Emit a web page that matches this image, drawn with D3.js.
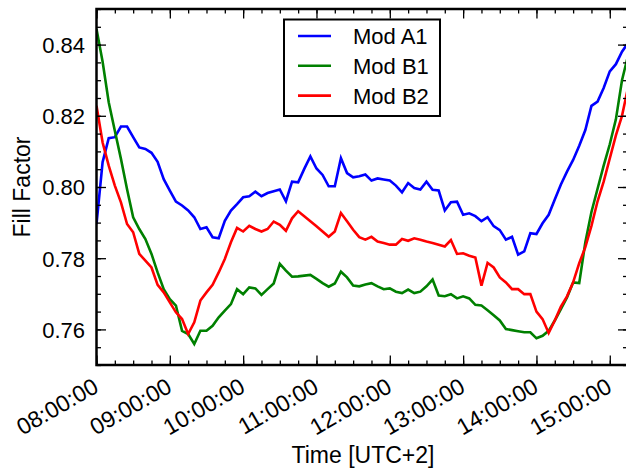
<!DOCTYPE html>
<html>
<head>
<meta charset="utf-8">
<script src="https://cdn.jsdelivr.net/npm/d3@7"></script>
<style>
  body { margin: 0; background: #fff; }
  svg text { font-family: "Liberation Sans", Arial, Helvetica, sans-serif; fill: #000; }
</style>
</head>
<body>
<div id="chart"></div>
<script>
// samples every 5 minutes starting 08:00:00
var startTime = new Date(2015, 5, 1, 8, 0, 0);
var stepMinutes = 5;

var seriesNames = ["Mod A1", "Mod B1", "Mod B2"];
var seriesColors = ["#0000ff", "#008000", "#ff0000"];

var modA1 = [0.7896, 0.8070, 0.8137, 0.8140, 0.8170, 0.8170, 0.8140, 0.8111, 0.8107, 0.8096,
  0.8071, 0.8022, 0.7990, 0.7959, 0.7948, 0.7934, 0.7915, 0.7882, 0.7887, 0.7859,
  0.7856, 0.7905, 0.7934, 0.7952, 0.7971, 0.7974, 0.7987, 0.7974, 0.7983, 0.7988,
  0.7993, 0.7960, 0.8015, 0.8013, 0.8051, 0.8086, 0.8052, 0.8034, 0.8002, 0.8002,
  0.8081, 0.8039, 0.8027, 0.8030, 0.8035, 0.8018, 0.8024, 0.8021, 0.8018, 0.8004,
  0.7985, 0.8011, 0.7997, 0.7993, 0.8015, 0.7992, 0.7990, 0.7934, 0.7957, 0.7959,
  0.7922, 0.7926, 0.7918, 0.7904, 0.7915, 0.7890, 0.7879, 0.7852, 0.7860, 0.7810,
  0.7819, 0.7870, 0.7868, 0.7898, 0.7922, 0.7965, 0.8007, 0.8043, 0.8076, 0.8116,
  0.8160, 0.8228, 0.8240, 0.8278, 0.8325, 0.8345, 0.8380, 0.8405];

var modB1 = [0.8444, 0.8352, 0.8238, 0.8158, 0.8079, 0.7994, 0.7915, 0.7882, 0.7854, 0.7812,
  0.7760, 0.7713, 0.7685, 0.7667, 0.7596, 0.7587, 0.7559, 0.7596, 0.7596, 0.7610,
  0.7634, 0.7653, 0.7671, 0.7713, 0.7699, 0.7718, 0.7715, 0.7697, 0.7713, 0.7729,
  0.7784, 0.7765, 0.7748, 0.7749, 0.7751, 0.7753, 0.7742, 0.7730, 0.7720, 0.7729,
  0.7762, 0.7746, 0.7723, 0.7721, 0.7726, 0.7730, 0.7721, 0.7713, 0.7715, 0.7706,
  0.7702, 0.7712, 0.7702, 0.7706, 0.7721, 0.7740, 0.7695, 0.7693, 0.7699, 0.7687,
  0.7693, 0.7687, 0.7669, 0.7667, 0.7654, 0.7640, 0.7625, 0.7601, 0.7598, 0.7595,
  0.7592, 0.7592, 0.7575, 0.7582, 0.7596, 0.7625, 0.7657, 0.7690, 0.7732, 0.7730,
  0.7845, 0.7930, 0.7995, 0.8060, 0.8120, 0.8190, 0.8300, 0.8370];

var modB2 = [0.8228, 0.8125, 0.8060, 0.8004, 0.7957, 0.7896, 0.7873, 0.7812, 0.7793, 0.7774,
  0.7725, 0.7704, 0.7676, 0.7648, 0.7629, 0.7587, 0.7620, 0.7681, 0.7704, 0.7725,
  0.7760, 0.7798, 0.7845, 0.7885, 0.7875, 0.7891, 0.7882, 0.7875, 0.7882, 0.7903,
  0.7894, 0.7877, 0.7912, 0.7932, 0.7918, 0.7904, 0.7890, 0.7875, 0.7860, 0.7875,
  0.7927, 0.7904, 0.7880, 0.7859, 0.7852, 0.7860, 0.7847, 0.7843, 0.7838, 0.7838,
  0.7854, 0.7849, 0.7856, 0.7852, 0.7847, 0.7843, 0.7838, 0.7833, 0.7851, 0.7812,
  0.7814, 0.7807, 0.7802, 0.7723, 0.7787, 0.7774, 0.7746, 0.7732, 0.7713, 0.7713,
  0.7699, 0.7699, 0.7650, 0.7629, 0.7590, 0.7625, 0.7664, 0.7693, 0.7732, 0.7786,
  0.7831, 0.7891, 0.7960, 0.8015, 0.8080, 0.8145, 0.8200, 0.8280];

var xTickLabels = ["08:00:00", "09:00:00", "10:00:00", "11:00:00",
  "12:00:00", "13:00:00", "14:00:00", "15:00:00"];
var yTickValues = [0.76, 0.78, 0.80, 0.82, 0.84];
var yTickLabels = ["0.76", "0.78", "0.80", "0.82", "0.84"];

var W = 626, H = 474;
var plot = { left: 96.5, right: 627.5, top: 9, bottom: 365 };

var svg = d3.select("#chart").append("svg")
    .attr("width", W)
    .attr("height", H);

var x = d3.scaleTime()
    .domain([startTime, new Date(+startTime + 434.5 * 60000)])
    .range([plot.left, plot.right]);

var y = d3.scaleLinear()
    .domain([0.75, 0.85])
    .range([plot.bottom, plot.top]);

function timeAt(i) { return new Date(+startTime + i * stepMinutes * 60000); }

svg.append("clipPath").attr("id", "clip")
  .append("rect")
    .attr("x", plot.left).attr("y", plot.top)
    .attr("width", plot.right - plot.left)
    .attr("height", plot.bottom - plot.top);

var line = d3.line()
    .x(function(d, i) { return x(timeAt(i)); })
    .y(function(d) { return y(d); });

var allSeries = [modA1, modB1, modB2];

svg.append("g").attr("clip-path", "url(#clip)")
  .selectAll("path")
  .data(allSeries)
  .enter().append("path")
    .attr("d", line)
    .attr("fill", "none")
    .attr("stroke", function(d, i) { return seriesColors[i]; })
    .attr("stroke-width", 2.6)
    .attr("stroke-linejoin", "miter");

// axes: ticks point inward on all four sides
function styleAxis(g) {
  g.select(".domain").remove();
  g.selectAll(".tick line").attr("stroke", "#000").attr("stroke-width", 1.3);
}

var hourTicks = d3.timeHour.every(1);
var quarterTicks = d3.timeMinute.every(15);
var minorY = d3.range(0.75, 0.8501, 0.005);

svg.append("g").attr("transform", "translate(0," + plot.bottom + ")")
  .call(d3.axisBottom(x).ticks(quarterTicks).tickSize(-4.5).tickFormat(""))
  .call(styleAxis);
svg.append("g").attr("transform", "translate(0," + plot.top + ")")
  .call(d3.axisTop(x).ticks(quarterTicks).tickSize(-4.5).tickFormat(""))
  .call(styleAxis);
svg.append("g").attr("transform", "translate(" + plot.left + ",0)")
  .call(d3.axisLeft(y).tickValues(minorY).tickSize(-4.5).tickFormat(""))
  .call(styleAxis);
svg.append("g").attr("transform", "translate(" + plot.right + ",0)")
  .call(d3.axisRight(y).tickValues(minorY).tickSize(-4.5).tickFormat(""))
  .call(styleAxis);

var xAxis = svg.append("g").attr("transform", "translate(0," + plot.bottom + ")")
  .call(d3.axisBottom(x).ticks(hourTicks).tickSize(-9.5)
    .tickFormat(function(d, i) { return xTickLabels[i]; }))
  .call(styleAxis);
xAxis.selectAll(".tick text")
    .attr("font-size", 23)
    .attr("text-anchor", "end")
    .attr("x", 0).attr("y", 0).attr("dy", 0)
    .attr("transform", "translate(3,26) rotate(-30)");

svg.append("g").attr("transform", "translate(0," + plot.top + ")")
  .call(d3.axisTop(x).ticks(hourTicks).tickSize(-9.5).tickFormat(""))
  .call(styleAxis);

var yAxis = svg.append("g").attr("transform", "translate(" + plot.left + ",0)")
  .call(d3.axisLeft(y).tickValues(yTickValues).tickSize(-9.5)
    .tickFormat(function(d, i) { return yTickLabels[i]; }))
  .call(styleAxis);
yAxis.selectAll(".tick text")
    .attr("font-size", 22)
    .attr("x", -11.5)
    .attr("dy", "0.36em");

svg.append("g").attr("transform", "translate(" + plot.right + ",0)")
  .call(d3.axisRight(y).tickValues(yTickValues).tickSize(-9.5).tickFormat(""))
  .call(styleAxis);

// spines
svg.append("rect")
    .attr("x", plot.left).attr("y", plot.top)
    .attr("width", plot.right - plot.left)
    .attr("height", plot.bottom - plot.top)
    .attr("fill", "none")
    .attr("stroke", "#000")
    .attr("stroke-width", 2.5);

svg.append("text")
    .attr("x", (plot.left + plot.right) / 2 + 1)
    .attr("y", 463)
    .attr("text-anchor", "middle")
    .attr("font-size", 23)
    .text("Time [UTC+2]");

svg.append("text")
    .attr("transform", "translate(30," + (plot.top + plot.bottom) / 2 + ") rotate(-90)")
    .attr("text-anchor", "middle")
    .attr("font-size", 23)
    .text("Fill Factor");

// legend
var legend = svg.append("g").attr("class", "legend");
legend.append("rect")
    .attr("x", 284).attr("y", 19.5)
    .attr("width", 156).attr("height", 96.5)
    .attr("fill", "#fff")
    .attr("stroke", "#000")
    .attr("stroke-width", 2);

var item = legend.selectAll(".item")
  .data(seriesNames)
  .enter().append("g")
    .attr("class", "item")
    .attr("transform", function(d, i) { return "translate(0," + (36 + i * 29.8) + ")"; });

item.append("line")
    .attr("x1", 298).attr("x2", 331)
    .attr("stroke", function(d, i) { return seriesColors[i]; })
    .attr("stroke-width", 2.6);

item.append("text")
    .attr("x", 353)
    .attr("dy", "0.36em")
    .attr("font-size", 22)
    .text(function(d) { return d; });
</script>
</body>
</html>
